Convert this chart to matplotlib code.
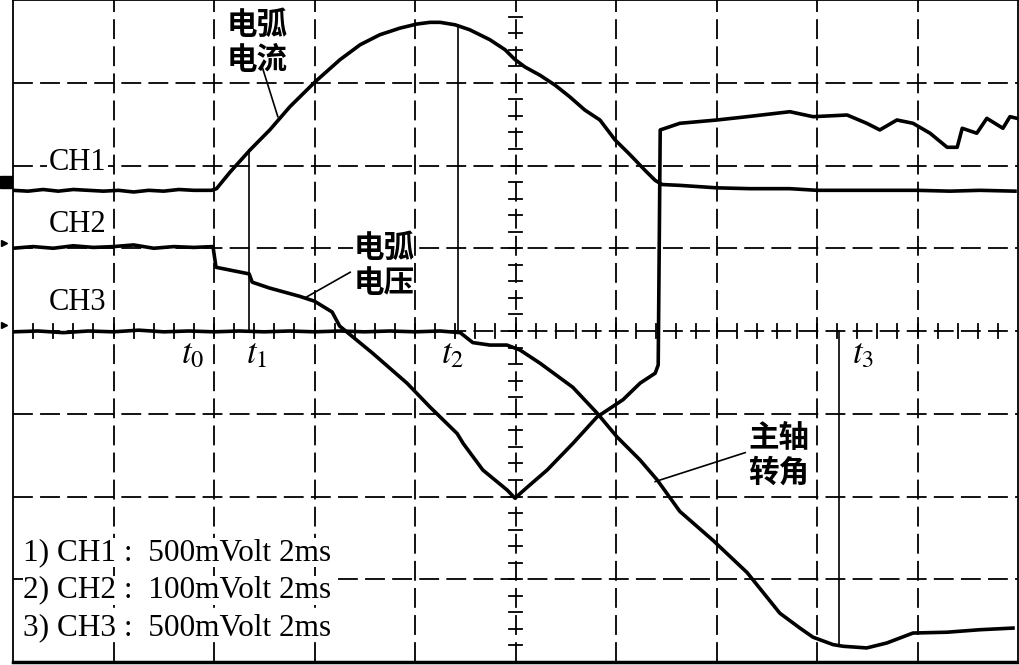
import matplotlib.pyplot as plt

plt.rcParams['font.family'] = ['Liberation Serif', 'Noto Sans CJK SC', 'DejaVu Sans']
plt.rcParams['mathtext.fontset'] = 'stix'

# time in ms (2 ms / div), amplitude in screen divisions (0 = centre line)
ch1_t = [0.0, 0.3, 0.6, 0.9, 1.2, 1.5, 1.8, 2.1, 2.4, 2.7, 3.0, 3.3, 3.6, 3.95,
         4.05, 4.32, 4.72, 5.11, 5.51, 6.01, 6.51, 6.91, 7.30, 7.70, 8.04, 8.30,
         8.50, 8.80, 9.09, 9.49, 9.79, 9.99, 10.19, 10.49, 10.79, 11.08, 11.38,
         11.68, 11.98, 12.28, 12.58, 12.78, 12.92, 13.27, 14.01, 14.67, 15.46,
         16.0, 16.66, 17.25, 17.99, 18.65, 19.24, 19.94]
ch1_v = [1.70, 1.69, 1.71, 1.69, 1.71, 1.70, 1.69, 1.70, 1.68, 1.70, 1.69, 1.71,
         1.70, 1.70, 1.72, 1.92, 2.19, 2.43, 2.71, 3.01, 3.28, 3.46, 3.58, 3.66,
         3.71, 3.73, 3.73, 3.70, 3.64, 3.52, 3.40, 3.28, 3.19, 3.09, 2.97, 2.83,
         2.67, 2.55, 2.31, 2.13, 1.94, 1.82, 1.77, 1.76, 1.73, 1.72, 1.72, 1.70,
         1.70, 1.70, 1.70, 1.69, 1.70, 1.69]

ch2_t = [0.0, 0.4, 0.8, 1.2, 1.6, 2.0, 2.4, 2.8, 3.2, 3.6, 3.98, 4.04, 4.70,
         4.76, 5.10, 5.70, 6.00, 6.35, 6.50, 7.16, 7.84, 8.30, 8.84, 8.96, 9.35,
         9.83, 9.99, 10.23, 10.63, 11.14, 11.62, 12.14, 12.48, 12.78, 12.84,
         12.88, 12.98, 13.27, 14.01, 14.61, 15.46, 15.92, 16.60, 16.99, 17.25,
         17.59, 17.91, 18.25, 18.59, 18.79, 18.89, 19.18, 19.38, 19.70, 19.84,
         19.98]
ch2_v = [1.00, 1.02, 1.00, 1.03, 1.01, 1.02, 1.04, 1.00, 1.02, 1.01, 1.02, 0.77,
         0.69, 0.59, 0.52, 0.42, 0.36, 0.23, 0.06, -0.27, -0.63, -0.92, -1.24,
         -1.36, -1.68, -1.92, -2.02, -1.89, -1.68, -1.36, -1.04, -0.83, -0.63,
         -0.51, -0.41, 2.43, 2.45, 2.51, 2.55, 2.59, 2.65, 2.59, 2.61, 2.51, 2.43,
         2.55, 2.51, 2.39, 2.22, 2.22, 2.45, 2.39, 2.57, 2.45, 2.59, 2.57]

ch3_t = [0.0, 0.5, 1.0, 1.5, 2.0, 2.5, 3.0, 3.5, 4.0, 4.5, 5.0, 5.5, 6.0, 6.5,
         7.0, 7.5, 8.0, 8.5, 8.9, 9.15, 9.49, 9.83, 10.09, 10.49, 11.14, 11.62,
         12.02, 12.48, 12.82, 13.27, 13.93, 14.61, 15.26, 15.66, 15.92, 16.32,
         16.52, 16.99, 17.39, 17.91, 18.59, 19.24, 19.90]
ch3_v = [-0.01, 0.0, -0.02, 0.0, -0.01, 0.01, -0.01, 0.0, -0.01, 0.0, -0.01, 0.0,
         -0.01, 0.0, -0.01, 0.0, -0.01, 0.0, -0.02, -0.14, -0.17, -0.17, -0.23,
         -0.39, -0.68, -0.99, -1.28, -1.56, -1.80, -2.18, -2.53, -2.92, -3.41,
         -3.59, -3.70, -3.79, -3.81, -3.83, -3.77, -3.65, -3.64, -3.61, -3.59]

# cursor lines t1, t2, t3: (time, top, bottom)
cursor_t = [4.70, 8.86, 16.44]
cursor_top = [2.15, 3.70, 0.0]
cursor_bot = [0.0, 0.0, -3.79]

t_names = ['$t_0$', '$t_1$', '$t_2$', '$t_3$']
t_pos = [3.58, 4.84, 8.74, 16.92]

ch_names = ['CH1', 'CH2', 'CH3']
ch_label_y = [2.04, 1.29, 0.34]

scale_lines = ['1) CH1 :  500mVolt 2ms',
               '2) CH2 :  100mVolt 2ms',
               '3) CH3 :  500mVolt 2ms']

fig = plt.figure(figsize=(10.2, 6.65), dpi=100)
ax = fig.add_axes([13 / 1020, 3 / 665, 1005 / 1020, 662 / 665])
ax.set_xlim(0, 20)
ax.set_ylim(-4, 4)
ax.set_xticks([])
ax.set_yticks([])
for s in ax.spines.values():
    s.set_linewidth(1.3)
ax.spines['bottom'].set_linewidth(2.5)

# graticule
for gx in range(2, 20, 2):
    ax.axvline(gx, color='black', lw=1.3, dashes=(11, 4), zorder=1)
for gy in range(-3, 4):
    ax.axhline(gy, color='black', lw=1.3, dashes=(11, 4), zorder=1)
for k in range(1, 50):
    tx = k * 0.4
    ax.plot([tx, tx], [-0.08, 0.08], color='black', lw=1.3, zorder=1)
for k in range(-19, 20):
    ty = k * 0.2
    ax.plot([9.87, 10.13], [ty, ty], color='black', lw=1.3, zorder=1)

ax.plot(ch1_t, ch1_v, color='black', lw=2.6, zorder=3)
ax.plot(ch2_t, ch2_v, color='black', lw=2.6, zorder=3)
ax.plot(ch3_t, ch3_v, color='black', lw=2.6, zorder=3)

for ct, top, bot in zip(cursor_t, cursor_top, cursor_bot):
    ax.plot([ct, ct], [bot, top], color='black', lw=1.2, zorder=2)

for name, tx in zip(t_names, t_pos):
    ax.text(tx, -0.29, name, fontsize=25, ha='center', va='center', zorder=4)

for name, cy in zip(ch_names, ch_label_y):
    ax.text(1.29, cy, name, fontsize=22, ha='center', va='center', zorder=4,
            bbox=dict(facecolor='white', edgecolor='none', pad=1))

# channel markers at the left edge
ax.plot([-0.13], [1.80], marker='s', color='black', ms=9, clip_on=False)
ax.plot([-0.17, -0.17], [1.06, 0.07], ls='none', marker='>', color='black', ms=5,
        clip_on=False)

# annotations
cjk = dict(fontsize=22, fontweight='bold', ha='left', va='top', linespacing=1.12,
           zorder=4, family=['Noto Sans CJK SC'])
ax.text(4.26, 3.89, '电弧\n电流', **cjk)
ax.plot([4.96, 5.27], [3.19, 2.59], color='black', lw=1.2)
ax.text(6.77, 1.20, '电弧\n电压', bbox=dict(facecolor='white', edgecolor='none', pad=0),
        **cjk)
ax.plot([5.81, 6.71], [0.40, 0.71], color='black', lw=1.2)
ax.text(14.63, -1.10, '主轴\n转角', bbox=dict(facecolor='white', edgecolor='none', pad=0),
        **cjk)
ax.plot([12.78, 14.57], [-1.82, -1.47], color='black', lw=1.2)

for line, ly in zip(scale_lines, [-2.68, -3.13, -3.58]):
    ax.text(0.2, ly, line, fontsize=22.5, ha='left', va='center', zorder=4,
            bbox=dict(facecolor='white', edgecolor='none', pad=0))

fig.savefig('out.png', dpi=100)
